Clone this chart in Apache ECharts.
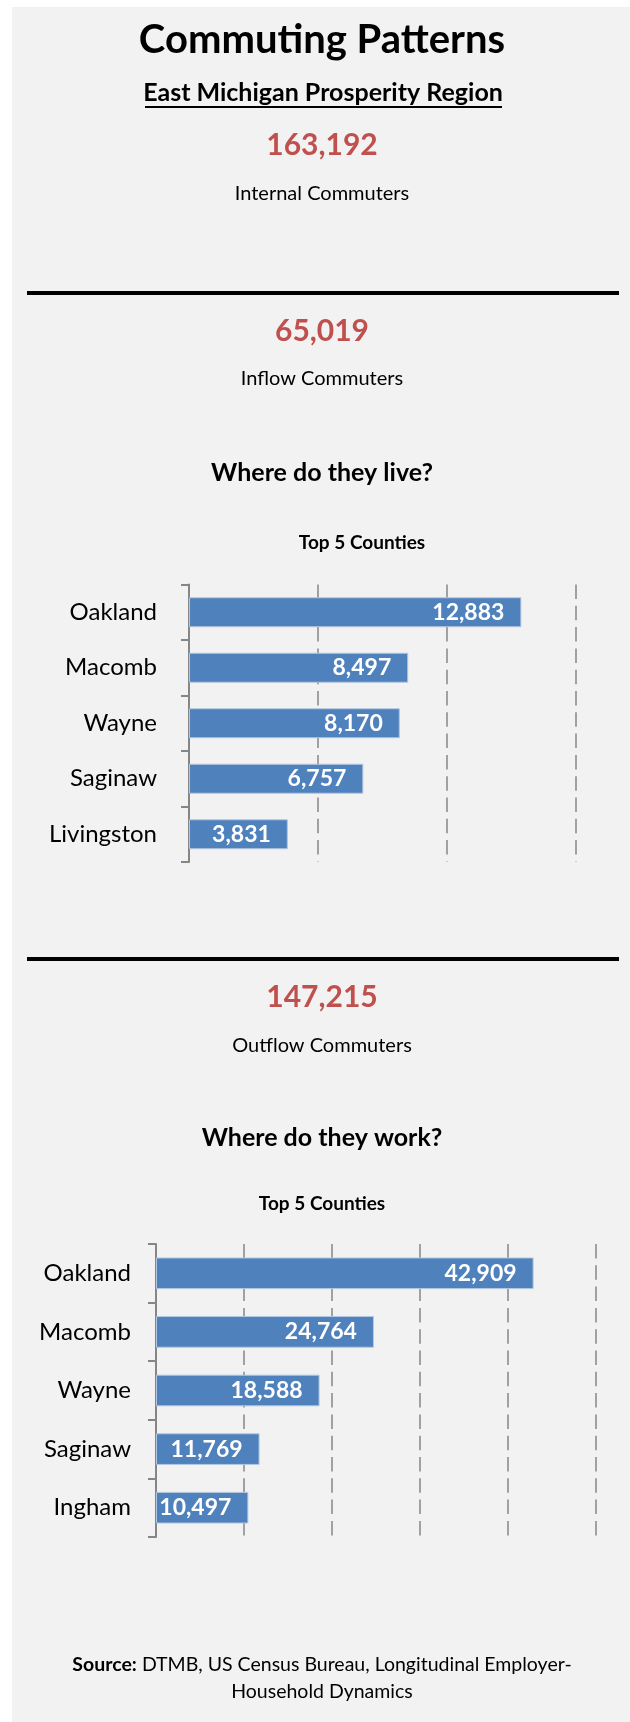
<!DOCTYPE html>
<html>
<head>
<meta charset="utf-8">
<script src="https://cdn.jsdelivr.net/npm/echarts@6/dist/echarts.min.js"></script>
<style>
  html, body { margin: 0; padding: 0; background: #ffffff; }
  #chart { width: 630px; height: 1722px; }
</style>
</head>
<body>
<div id="chart"></div>
<script>
// ---- data ----
const liveCategories = ['Oakland', 'Macomb', 'Wayne', 'Saginaw', 'Livingston'];
const liveValues = [12883, 8497, 8170, 6757, 3831];
const workCategories = ['Oakland', 'Macomb', 'Wayne', 'Saginaw', 'Ingham'];
const workValues = [42909, 24764, 18588, 11769, 10497];
const headlineNumbers = ['163,192', '65,019', '147,215'];
const headlineLabels = ['Internal Commuters', 'Inflow Commuters', 'Outflow Commuters'];
const liveAxisTicks = [0, 5000, 10000, 15000];
const workAxisTicks = [0, 10000, 20000, 30000, 40000, 50000];

// ---- styles ----
const FONT = 'Lato, "Noto Sans", sans-serif';
const RED = '#c0504d';
const BAR = '#4f81bd';
const GREY = '#868686';

function txt(x, y, text, size, weight, fill) {
  return {
    type: 'text', x: x, y: y, z: 10,
    style: {
      text: text, fontSize: size, fontWeight: weight || 'normal',
      fontFamily: FONT, fill: fill || '#000', align: 'center', verticalAlign: 'middle'
    }
  };
}

const chart = echarts.init(document.getElementById('chart'), null, { renderer: 'canvas' });

function valueAxis(gridIndex, ticks) {
  return {
    type: 'value', gridIndex: gridIndex,
    min: ticks[0], max: ticks[ticks.length - 1], interval: ticks[1] - ticks[0],
    axisLine: { show: false }, axisTick: { show: false }, axisLabel: { show: false },
    splitLine: { show: true, lineStyle: { color: GREY, width: 1.5, type: [14.5, 6.8] } }
  };
}
function catAxis(gridIndex, cats, margin) {
  return {
    type: 'category', gridIndex: gridIndex, data: cats, inverse: true,
    axisLine: { show: true, lineStyle: { color: GREY, width: 2 } },
    axisTick: { show: true, length: 8, lineStyle: { color: GREY, width: 2 } },
    axisLabel: { margin: margin, fontSize: 24, fontFamily: FONT, color: '#000' },
    splitLine: { show: false }
  };
}
function barSeries(idx, vals) {
  return {
    type: 'bar', xAxisIndex: idx, yAxisIndex: idx, data: vals,
    barCategoryGap: '46%',
    itemStyle: { color: BAR, borderColor: '#b3c7e0', borderWidth: 1 },
    label: {
      show: true, position: 'insideRight', distance: 17, color: '#fff',
      fontSize: 23, fontWeight: 'bold', fontFamily: FONT,
      formatter: p => p.value.toLocaleString('en-US')
    },
    silent: true, animation: false
  };
}

const option = {
  animation: false,
  backgroundColor: '#ffffff',
  grid: [
    { left: 189, top: 584.5, width: 387, height: 277.5, containLabel: false },
    { left: 156, top: 1244, width: 440, height: 293, containLabel: false }
  ],
  xAxis: [valueAxis(0, liveAxisTicks), valueAxis(1, workAxisTicks)],
  yAxis: [catAxis(0, liveCategories, 32), catAxis(1, workCategories, 25)],
  series: [barSeries(0, liveValues), barSeries(1, workValues)],
  graphic: [
    { type: 'rect', z: -10, shape: { x: 12, y: 7, width: 618, height: 1715 }, style: { fill: '#f2f2f2' } },
    { type: 'rect', z: 5, shape: { x: 27, y: 291, width: 592, height: 4 }, style: { fill: '#000' } },
    { type: 'rect', z: 5, shape: { x: 27, y: 957, width: 592, height: 4 }, style: { fill: '#000' } },
    txt(322, 40, 'Commuting Patterns', 40, 'bold'),
    txt(323, 93, 'East Michigan Prosperity Region', 25, 'bold'),
    { type: 'rect', z: 5, shape: { x: 145, y: 106, width: 357, height: 2 }, style: { fill: '#000' } },
    txt(322, 145, headlineNumbers[0], 30, 'bold', RED),
    txt(322, 194, headlineLabels[0], 20),
    txt(322, 331, headlineNumbers[1], 30, 'bold', RED),
    txt(322, 379, headlineLabels[1], 20),
    txt(322, 473, 'Where do they live?', 25, 'bold'),
    txt(362, 543, 'Top 5 Counties', 19, 'bold'),
    txt(322, 997, headlineNumbers[2], 30, 'bold', RED),
    txt(322, 1046, headlineLabels[2], 20),
    txt(322, 1138, 'Where do they work?', 25, 'bold'),
    txt(322, 1204, 'Top 5 Counties', 19, 'bold'),
    {
      type: 'text', x: 322, y: 1665, z: 10,
      style: {
        text: '{b|Source:} DTMB, US Census Bureau, Longitudinal Employer-',
        fontSize: 19.5, fontFamily: FONT, fill: '#000', align: 'center', verticalAlign: 'middle',
        rich: { b: { fontWeight: 'bold', fontSize: 19.5, fontFamily: FONT, fill: '#000' } }
      }
    },
    txt(322, 1692, 'Household Dynamics', 19.5)
  ]
};
chart.setOption(option);
</script>
</body>
</html>
